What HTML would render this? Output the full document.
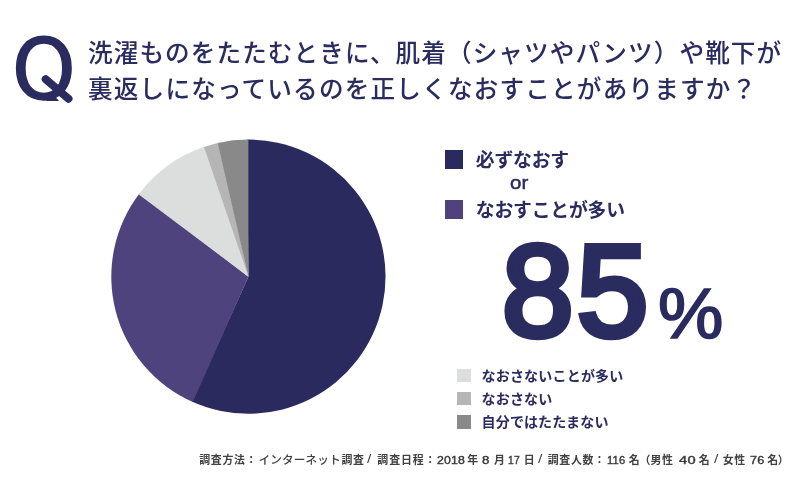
<!DOCTYPE html>
<html lang="ja">
<head>
<meta charset="utf-8">
<title>アンケート結果</title>
<style>
html,body{margin:0;padding:0;background:#fff;}
body{width:801px;height:497px;position:relative;overflow:hidden;
 font-family:"Liberation Sans","Noto Sans CJK JP",sans-serif;color:#2a2b5e;}
.abs{position:absolute;white-space:nowrap;}
.jp{font-family:"Noto Sans CJK JP","Liberation Sans",sans-serif;}
#qbox{position:absolute;left:0;top:0;width:95px;height:100.6px;overflow:hidden;}
#q{left:11.8px;top:21.2px;font-size:83px;line-height:100px;font-weight:400;font-family:"DejaVu Sans","Liberation Sans",sans-serif;-webkit-text-stroke:1.4px #2a2b5e;transform-origin:0 0;transform:scaleX(0.975);}
#qtail{position:absolute;left:37.6px;top:84.6px;width:38.2px;height:8.2px;border-radius:4.1px;background:#2a2b5e;transform:rotate(40.6deg);}
.t{left:88px;font-size:24.6px;line-height:36px;font-weight:500;}
#t1{top:32.5px;letter-spacing:1.1px;}
#t2{top:69px;letter-spacing:1.2px;}
.sq{position:absolute;width:18.4px;height:18.6px;left:444.6px;}
.sq2{position:absolute;width:13.8px;height:13.8px;left:456.8px;}
.lg{font-size:18.8px;line-height:24px;font-weight:700;left:475.8px;letter-spacing:-0.15px;}
.sm{font-size:14px;line-height:20px;font-weight:700;letter-spacing:0.2px;left:481.5px;}
#or{left:509.8px;top:172px;font-size:18.6px;line-height:22px;font-weight:400;-webkit-text-stroke:0.5px #2a2b5e;transform-origin:0 0;transform:scaleX(1.1);}
#big{left:502px;top:225.8px;font-size:130.5px;line-height:130px;font-weight:400;letter-spacing:3.2px;transform-origin:0 0;transform:scaleX(0.985);-webkit-text-stroke:6.4px #2a2b5e;font-family:"Liberation Sans",sans-serif;}
#pct{left:658.2px;top:278.3px;transform-origin:0 0;transform:scaleX(1.05);font-size:70px;line-height:72px;font-weight:400;-webkit-text-stroke:1.7px #2a2b5e;font-family:"Liberation Sans",sans-serif;}
#foot{position:absolute;left:190px;top:450px;width:611px;height:18px;font-size:10.9px;line-height:16px;color:#414141;font-weight:700;white-space:nowrap;}
#foot span{position:absolute;top:0.5px;white-space:nowrap;}
#foot .k{letter-spacing:0.65px;}
#foot .kk{font-size:11.6px;letter-spacing:0.2px;font-weight:500;}
#foot .d{top:1.8px;font-family:"Liberation Sans",sans-serif;font-size:11px;letter-spacing:0.2px;font-weight:400;-webkit-text-stroke:0.4px #3a3a3a;color:#3a3a3a;transform-origin:0 0;}
#foot .s{top:0.8px;font-family:"Liberation Sans",sans-serif;font-size:12px;font-weight:400;transform-origin:0 50%;transform:scaleX(1.3);}
</style>
</head>
<body>
<div id="qbox"><div id="q" class="abs">Q</div></div>
<div id="qtail"></div>
<div id="t1" class="abs t jp">洗濯ものをたたむときに、肌着（シャツやパンツ）や靴下が</div>
<div id="t2" class="abs t jp">裏返しになっているのを正しくなおすことがありますか？</div>

<svg class="abs" style="left:100px;top:130px" width="300" height="300" viewBox="100 130 300 300">
  <path d="M248.4 276.7L247.20 139.61A137.1 137.1 0 1 1 191.76 401.55Z" fill="#2a2a5e"/>
  <path d="M248.4 276.7L192.86 402.04A137.1 137.1 0 0 1 139.49 193.43Z" fill="#4e437c"/>
  <path d="M248.4 276.7L138.76 194.38A137.1 137.1 0 0 1 205.12 146.61Z" fill="#dcdddd"/>
  <path d="M248.4 276.7L203.99 146.99A137.1 137.1 0 0 1 218.96 142.80Z" fill="#b5b5b6"/>
  <path d="M248.4 276.7L217.79 143.06A137.1 137.1 0 0 1 248.40 139.60Z" fill="#898989"/>
</svg>

<div class="sq" style="top:150px;background:#2a2a5e"></div>
<div id="l1" class="abs lg jp" style="top:146.7px">必ずなおす</div>
<div id="or" class="abs">or</div>
<div class="sq" style="top:200px;background:#4e437c"></div>
<div id="l2" class="abs lg jp" style="top:196.5px">なおすことが多い</div>

<div id="big" class="abs">85</div>
<div id="pct" class="abs">%</div>

<div class="sq2" style="top:368.7px;background:#dcdddd"></div>
<div id="s1" class="abs sm jp" style="top:364.7px">なおさないことが多い</div>
<div class="sq2" style="top:391.7px;background:#b5b5b6"></div>
<div id="s2" class="abs sm jp" style="top:387.7px">なおさない</div>
<div class="sq2" style="top:414.9px;background:#898989"></div>
<div id="s3" class="abs sm jp" style="top:410.7px">自分ではたたまない</div>

<div id="foot" class="jp"><span class="k" style="left:9.2px;letter-spacing:0.75px">調査方法：</span><span class="kk" style="left:68.4px;">インターネット</span><span class="k" style="left:151.5px;">調査</span> <span class="s" style="left:177.2px;">/</span> <span class="k" style="left:187.3px;letter-spacing:0.95px">調査日程：</span><span class="d" style="left:246.6px;transform:scaleX(1.112)">2018</span> <span class="k" style="left:277.3px;">年</span> <span class="d" style="left:291.9px;transform:scaleX(1.203)">8</span> <span class="k" style="left:304.1px;">月</span> <span class="d" style="left:317.8px;transform:scaleX(0.933)">17</span> <span class="k" style="left:333.8px;">日</span>  <span class="s" style="left:347.9px;">/</span> <span class="k" style="left:357.8px;">調査人数：</span><span class="d" style="left:416.8px;transform:scaleX(1.012)">116</span> <span class="k" style="left:438.8px;">名</span><span class="k" style="left:449.6px;">（</span><span class="k" style="left:460.4px;">男性</span> <span class="d" style="left:488.7px;transform:scaleX(1.333)">40</span> <span class="k" style="left:508.8px;">名</span> <span class="s" style="left:524.0px;">/</span> <span class="k" style="left:532.8px;">女性</span> <span class="d" style="left:559.6px;transform:scaleX(1.141)">76</span> <span class="k" style="left:577.3px;">名</span><span class="k" style="left:587.7px;">）</span></div>
</body>
</html>
